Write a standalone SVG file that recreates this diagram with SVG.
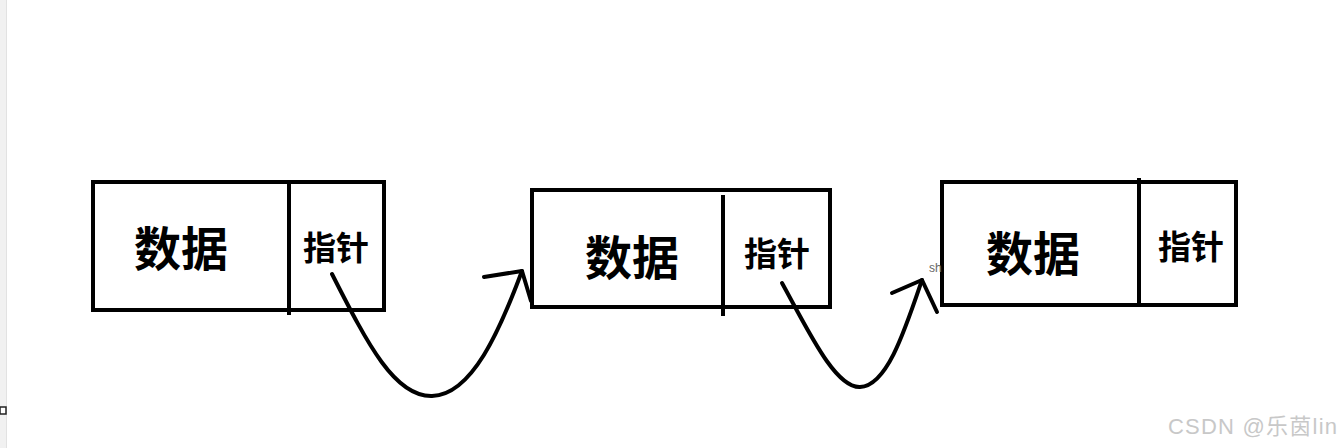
<svg xmlns="http://www.w3.org/2000/svg" width="1343" height="448" viewBox="0 0 1343 448">
<style>
.box{fill:#fff;stroke:#000;stroke-width:4}
.div{stroke:#000;stroke-width:4;fill:none}
.data{font-family:"Noto Sans CJK SC",sans-serif;font-weight:bold;font-size:47px;fill:#000;text-anchor:middle}
.ptr{font-family:"Noto Sans CJK SC",sans-serif;font-weight:bold;font-size:33px;fill:#000;text-anchor:middle}
.link{fill:none;stroke:#000;stroke-width:4;stroke-linecap:round;stroke-linejoin:round}
</style>
<rect x="0" y="0" width="1343" height="448" fill="#fff"/>
<rect x="0" y="0" width="6" height="448" fill="#f1f1f1"/>
<line x1="6.5" y1="0" x2="6.5" y2="448" stroke="#e2e2e2" stroke-width="1"/>
<rect x="0" y="407" width="6" height="7" fill="#fff" stroke="#222" stroke-width="1.5"/>
<g id="node1">
<rect class="box" x="93" y="182" width="291" height="128"/>
<line class="div" x1="289" y1="182" x2="289" y2="315"/>
<text class="data" x="181" y="266">数据</text>
<text class="ptr" x="336" y="260">指针</text>
</g>
<g id="node2">
<rect class="box" x="532" y="190" width="298" height="117"/>
<line class="div" x1="723" y1="195" x2="723" y2="316"/>
<text class="data" x="632" y="275">数据</text>
<text class="ptr" x="777" y="266">指针</text>
</g>
<g id="node3">
<rect class="box" x="942" y="182" width="294" height="123"/>
<line class="div" x1="1139" y1="178" x2="1139" y2="305"/>
<text class="data" x="1033" y="271">数据</text>
<text class="ptr" x="1191" y="259">指针</text>
</g>
<text x="929" y="272" font-family="Liberation Sans,sans-serif" font-size="12" fill="#666">sh</text>
<g id="connectors">
<path class="link" d="M332,274 C368,345 395,397 432,396 C472,395 500,330 522,271"/>
<path class="link" d="M484,277 L522,271 L531,301"/>
<path class="link" d="M782,283 C808,330 835,388 860,387 C887,386 905,330 922,280"/>
<path class="link" d="M892,293 L922,280 L937,312"/>
</g>
<text x="1168" y="434" font-family="Liberation Sans,&quot;Noto Sans CJK SC&quot;,sans-serif" font-size="22" fill="#c8c8c8" textLength="169" lengthAdjust="spacing">CSDN @乐茵lin</text>
</svg>
